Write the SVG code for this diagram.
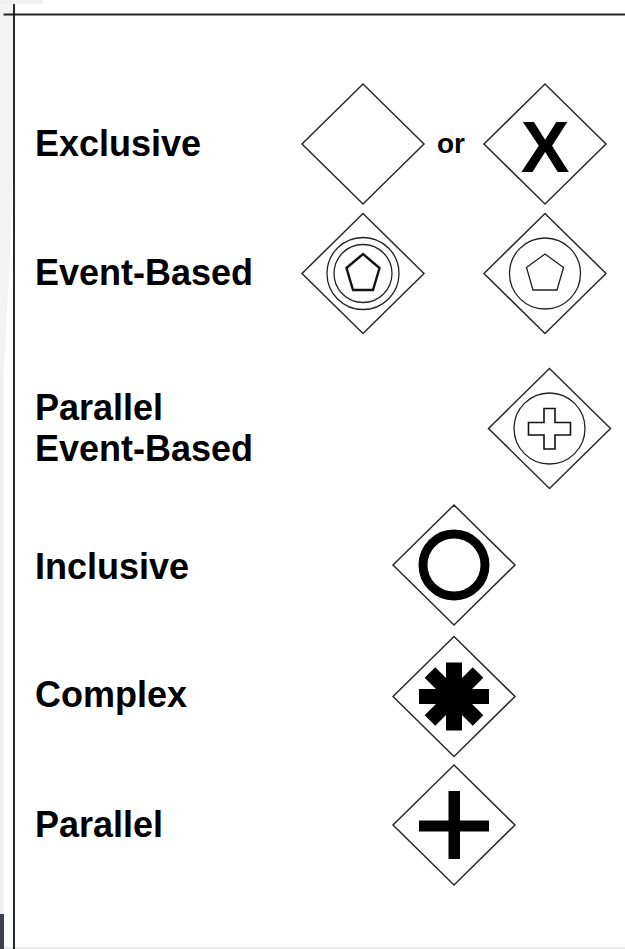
<svg xmlns="http://www.w3.org/2000/svg" xmlns:xlink="http://www.w3.org/1999/xlink" width="625" height="949" viewBox="0 0 625 949">
<style>
.lbl{font-family:"Liberation Sans",Arial,sans-serif;font-weight:bold;font-size:36px;fill:#000}
.dia{fill:#fff;stroke:#2a2a2a;stroke-width:1.5}
.thin{fill:none;stroke:#222;stroke-width:1.3}
.thick{fill:none;stroke:#111;stroke-width:2.4}
</style>
<defs>
<path id="diamond" d="M0,-60 L61,0 L0,60 L-61,0 Z"/>
</defs>
<rect width="625" height="949" fill="#fff"/>
<g id="page">
<rect x="0" y="0" width="3.5" height="949" fill="#efefef"/>
<rect x="0" y="0" width="43" height="4" fill="#efefef"/>
<path d="M0,4 L13,4 L13,160 Q10,280 3.5,370 L0,370 Z" fill="#f3f3f3"/>
<rect x="0" y="914" width="4" height="35" fill="#3d3f4f"/>
<line x1="4" y1="948" x2="625" y2="948" stroke="#e6e6e6" stroke-width="1.5"/>
<line x1="3.5" y1="14.5" x2="625" y2="14.5" stroke="#222" stroke-width="2"/>
<line x1="14" y1="4" x2="14" y2="949" stroke="#111" stroke-width="1.8"/>
</g>
<g id="connectors"></g>
<g id="labels">
<text class="lbl" x="35" y="156">Exclusive</text>
<text class="lbl" x="35" y="285">Event-Based</text>
<text class="lbl" x="35" y="420">Parallel</text>
<text class="lbl" x="35" y="461">Event-Based</text>
<text class="lbl" x="35" y="579">Inclusive</text>
<text class="lbl" x="35" y="707">Complex</text>
<text class="lbl" x="35" y="837">Parallel</text>
</g>
<g id="exclusive-empty" transform="translate(363,144)">
<use xlink:href="#diamond" class="dia"/>
</g>
<text id="or" x="437" y="153" style="font-family:'Liberation Sans',Arial,sans-serif;font-weight:bold;font-size:28px">or</text>
<g id="exclusive-x" transform="translate(545,144)">
<use xlink:href="#diamond" class="dia"/>
<text x="0" y="28" text-anchor="middle" style="font-family:'Liberation Sans',Arial,sans-serif;font-weight:bold;font-size:73px">X</text>
</g>
<g id="event-based-instantiate" transform="translate(363,273.5)">
<use xlink:href="#diamond" class="dia"/>
<circle r="36" class="thin"/>
<circle r="29" class="thin"/>
<polygon points="0,-19.5 16.5,-5.5 10,16.5 -10,16.5 -16.5,-5.5" class="thick"/>
</g>
<g id="event-based" transform="translate(545,273.5)">
<use xlink:href="#diamond" class="dia"/>
<circle r="35.5" class="thin"/>
<polygon points="0,-19.5 18.5,-6 12,16.5 -12,16.5 -18.5,-6" class="thin"/>
</g>
<g id="parallel-event-based" transform="translate(549.5,428.5)">
<use xlink:href="#diamond" class="dia"/>
<circle r="35.5" class="thin"/>
<polygon points="-5.5,-20 5.5,-20 5.5,-6 21,-6 21,6.5 5.5,6.5 5.5,20.5 -5.5,20.5 -5.5,6.5 -21,6.5 -21,-6 -5.5,-6 Z" fill="#fff" stroke="#111" stroke-width="1.6"/>
</g>
<g id="inclusive" transform="translate(454,565)">
<use xlink:href="#diamond" class="dia"/>
<circle r="31" fill="none" stroke="#000" stroke-width="9"/>
</g>
<g id="complex" transform="translate(454,696.5)">
<use xlink:href="#diamond" class="dia"/>
<g fill="#000">
<rect x="-8" y="-34" width="16" height="68"/>
<rect x="-35" y="-7.5" width="70" height="15"/>
<rect x="-7.5" y="-34" width="15" height="68" transform="rotate(45)"/>
<rect x="-7.5" y="-34" width="15" height="68" transform="rotate(-45)"/>
</g>
</g>
<g id="parallel" transform="translate(454,825)">
<use xlink:href="#diamond" class="dia"/>
<g fill="#000">
<rect x="-5.5" y="-34" width="11.5" height="68"/>
<rect x="-35" y="-4.5" width="70" height="11"/>
</g>
</g>
</svg>
